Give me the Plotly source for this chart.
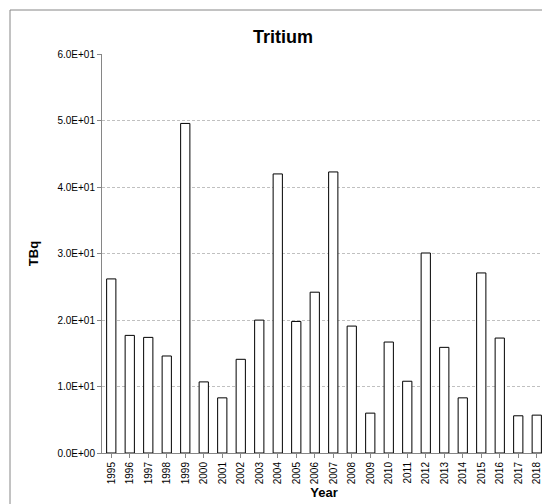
import plotly.graph_objects as go

years = [str(y) for y in range(1995, 2019)]
tbq = [26.2, 17.7, 17.4, 14.6, 49.6, 10.7, 8.3, 14.1, 20.0, 42.0, 19.8, 24.2,
       42.3, 19.1, 6.0, 16.7, 10.8, 30.1, 15.9, 8.3, 27.1, 17.3, 5.6, 5.7]
tick_vals = [0, 10, 20, 30, 40, 50, 60]
tick_text = ['0.0E+00', '1.0E+01', '2.0E+01', '3.0E+01', '4.0E+01', '5.0E+01', '6.0E+01']

L, R, T, B = 94, 12, 46, 59
W, H = 550, 504
pw, ph = W - L - R, H - T - B

fig = go.Figure(go.Bar(
    x=years, y=tbq, width=0.5,
    marker=dict(color='white', line=dict(color='black', width=1)),
))

fig.update_layout(
    width=W, height=H,
    margin=dict(l=L, r=R, t=T, b=B),
    paper_bgcolor='white', plot_bgcolor='white',
    font=dict(family='Liberation Sans, Arial', color='#404040', size=10),
    title=dict(text='<b>Tritium</b>', x=0.5, y=0.955, xanchor='center',
               font=dict(size=18, color='black')),
    showlegend=False,
    xaxis=dict(title=dict(text='<b>Year</b>', font=dict(size=13, color='black'), standoff=4),
               tickangle=-90, showline=True, linecolor='#868686',
               ticks='outside', ticklen=4, tickcolor='#868686', tickfont=dict(color='black')),
    yaxis=dict(title=dict(text='<b>TBq</b>', font=dict(size=13, color='black')),
               range=[0, 60.05], tickvals=tick_vals, ticktext=tick_text,
               showline=True, linecolor='#868686', ticks='outside', ticklen=4,
               tickcolor='#868686', gridcolor='#c0c0c0', griddash='3px,2px',
               tickfont=dict(color='black')),
    shapes=[dict(type='rect', xref='paper', yref='paper',
                 x0=-(L - 2) / pw, x1=1 + (R - 4) / pw,
                 y0=-(B - 4) / ph, y1=1 + (T - 2) / ph,
                 line=dict(color='#868686', width=1))],
)

fig.write_html("out.html")
